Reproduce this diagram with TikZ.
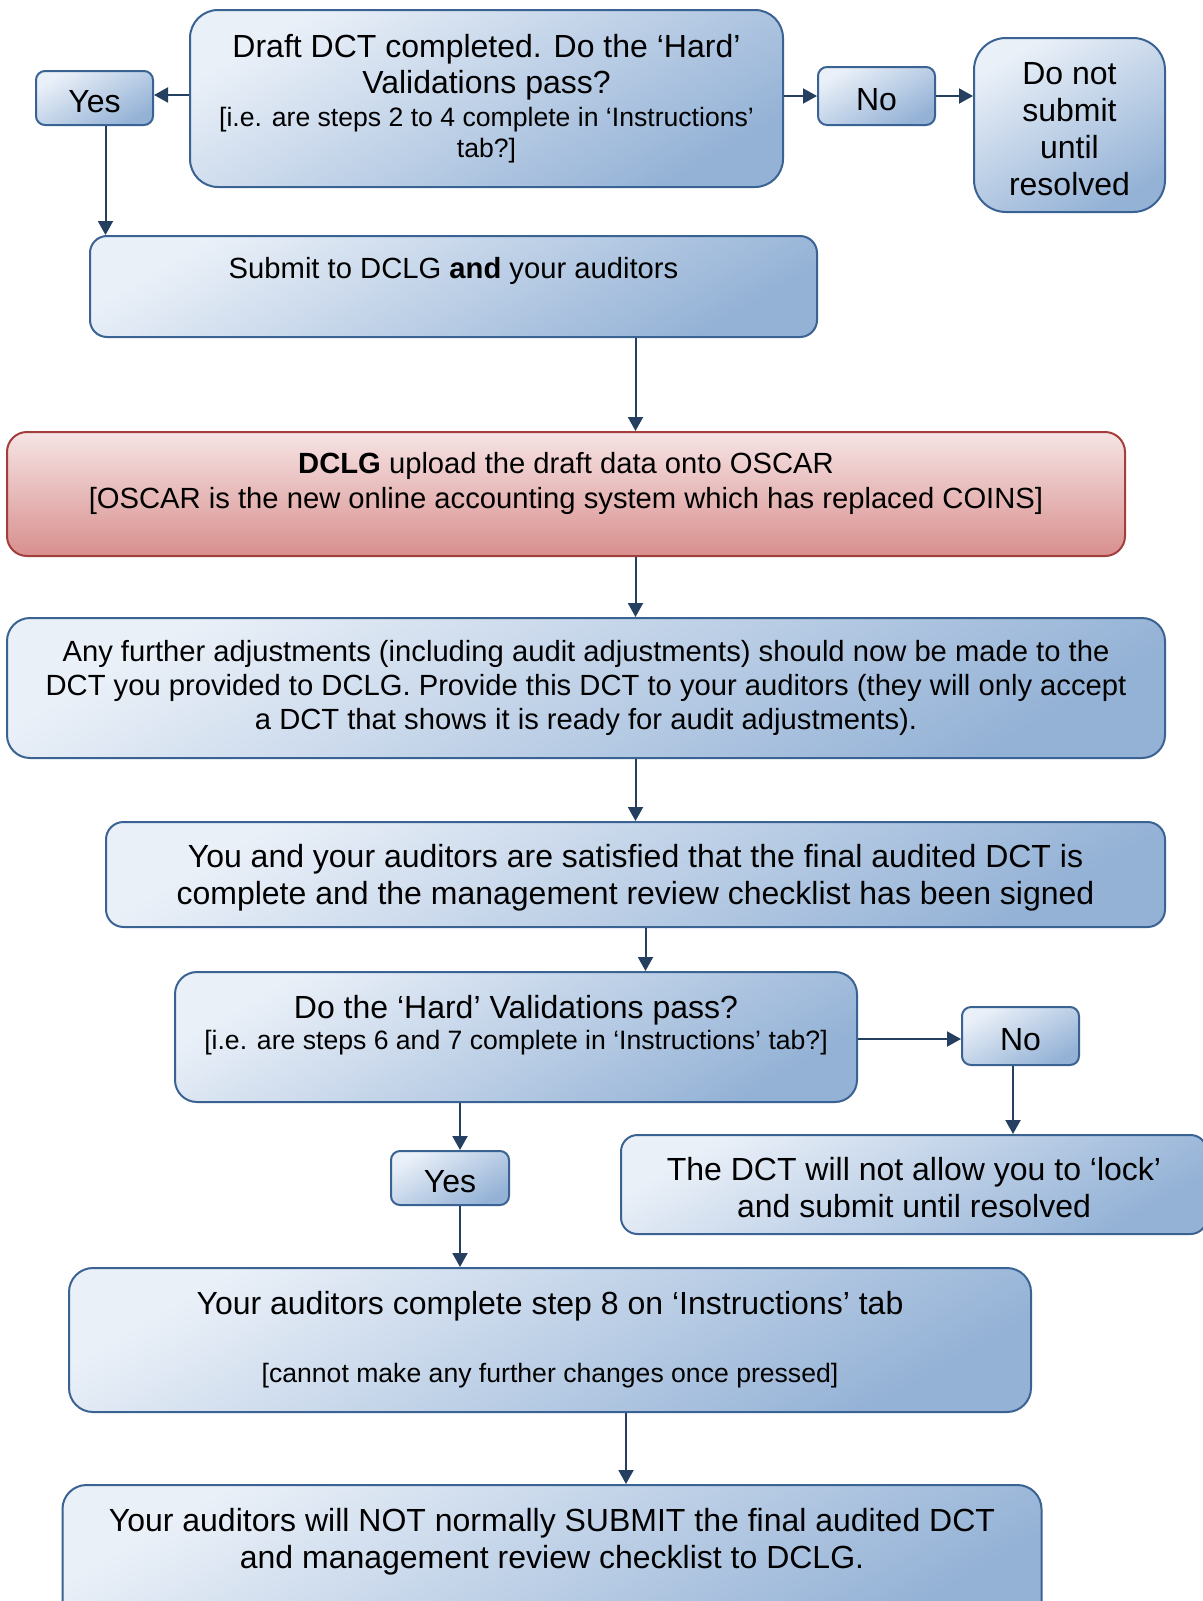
\documentclass[tikz,border=0pt]{standalone}
\usepackage{xcolor}
\usepackage{fontspec}
\setmainfont{Liberation Sans}
\usepackage{tikz}
\usetikzlibrary{arrows.meta}
\definecolor{boxlight}{HTML}{EAF0F8}
\definecolor{boxdark}{HTML}{94B2D6}
\definecolor{boxline}{HTML}{3A6394}
\definecolor{redlight}{HTML}{F6E4E4}
\definecolor{reddark}{HTML}{D88F8E}
\definecolor{redline}{HTML}{A23F3C}
\definecolor{arrline}{HTML}{243F60}
\newcommand{\bigtext}{\fontsize{16}{18.4}\selectfont}
\newcommand{\midtext}{\fontsize{14.6}{16.8}\selectfont}
\newcommand{\smalltext}{\fontsize{13.3}{15.3}\selectfont}
\newcommand{\liftstrut}{\rule{0pt}{15pt}}
\tikzset{flowbox/.style={draw=boxline, line width=1pt, top color=boxlight, bottom color=boxdark, shading angle=30, align=center, inner sep=0pt, font=\bigtext},
  redbox/.style={flowbox, draw=redline, top color=redlight, bottom color=reddark, shading angle=0},
  arr/.style={draw=arrline, line width=1pt, -{Triangle[length=7pt,width=7.5pt]}}}

\begin{document}
\begin{tikzpicture}[x=0.5pt, y=-0.5pt]
\useasboundingbox (0,0) rectangle (1203,1601);
\node[flowbox, minimum width=296.5pt, minimum height=88.5pt, rounded corners=14pt, text depth=6.3pt] (draft) at (486.5,98.5) {\liftstrut Draft DCT completed. Do the ‘Hard’\\ Validations pass?\\[-1.95pt] \smalltext [i.e. are steps 2 to 4 complete in ‘Instructions’\\[-3.1pt] \smalltext tab?]};
\node[flowbox, minimum width=58.5pt, minimum height=27pt, rounded corners=4.5pt] (yesA) at (94.5,98) {\liftstrut Yes};
\node[flowbox, minimum width=58.5pt, minimum height=29pt, rounded corners=4.5pt] (noA) at (876.5,96) {\liftstrut No};
\node[flowbox, minimum width=95.5pt, minimum height=87pt, rounded corners=16pt] (hold) at (1069.5,125) {\liftstrut Do not\\ submit\\ until\\ resolved};
\node[flowbox, font=\midtext, minimum width=363.5pt, minimum height=50.5pt, rounded corners=8.5pt, text depth=22.8pt] (submit) at (453.5,286.5) {\liftstrut Submit to DCLG \textbf{and} your auditors};
\node[redbox, font=\midtext, minimum width=559pt, minimum height=62pt, rounded corners=10pt, text depth=17.8pt] (red) at (566,494) {\liftstrut\textbf{DCLG} upload the draft data onto OSCAR\\[0.5pt] {[}OSCAR is the new online accounting system which has replaced COINS]};
\node[flowbox, font=\midtext, minimum width=579pt, minimum height=70pt, rounded corners=11.5pt, text depth=7.5pt] (adjust) at (586,688) {\liftstrut Any further adjustments (including audit adjustments) should now be made to the\\ DCT you provided to DCLG. Provide this DCT to your auditors (they will only accept\\ a DCT that shows it is ready for audit adjustments).};
\node[flowbox, minimum width=529.5pt, minimum height=52.5pt, rounded corners=8.75pt] (you) at (635.5,874.5) {\liftstrut You and your auditors are satisfied that the final audited DCT is\\ complete and the management review checklist has been signed};
\node[flowbox, minimum width=341pt, minimum height=65pt, rounded corners=11pt, text depth=18pt] (hard) at (516,1037) {\liftstrut Do the ‘Hard’ Validations pass?\\[-2.45pt] \smalltext [i.e. are steps 6 and 7 complete in ‘Instructions’ tab?]};
\node[flowbox, minimum width=58.5pt, minimum height=29pt, rounded corners=4.5pt] (noB) at (1020.5,1036) {\liftstrut No};
\node[flowbox, minimum width=59pt, minimum height=27pt, rounded corners=4.5pt] (yesB) at (450,1178) {\liftstrut Yes};
\node[flowbox, minimum width=293pt, minimum height=49.5pt, rounded corners=8.25pt] (lock) at (914,1184.5) {\liftstrut The DCT will not allow you to ‘lock’\\ and submit until resolved};
\node[flowbox, minimum width=481pt, minimum height=72pt, rounded corners=12pt, text depth=6.4pt] (done) at (550,1340) {\liftstrut Your auditors complete step 8 on ‘Instructions’ tab\\[15.4pt] \smalltext [cannot make any further changes once pressed]};
\node[flowbox, minimum width=489.5pt, minimum height=72.5pt, rounded corners=12pt, text depth=22.8pt] (final) at (552,1557.5) {\liftstrut Your auditors will NOT normally SUBMIT the final audited DCT\\ and management review checklist to DCLG.};
\draw[arr] ([yshift=1.5pt]draft.west |- yesA.east) -- ([yshift=1.5pt]yesA.east);
\draw[arr] ([xshift=5.5pt]yesA.south) -- ([xshift=5.5pt]yesA.south |- submit.north);
\draw[arr] (draft.east |- noA.west) -- (noA.west);
\draw[arr] (noA.east) -- (noA.east -| hold.west);
\draw[arr] (submit.south -| you.north) -- (red.north -| you.north);
\draw[arr] (red.south -| you.north) -- (adjust.north -| you.north);
\draw[arr] (adjust.south -| you.north) -- (you.north);
\draw[arr] ([xshift=5pt]you.south) -- ([xshift=5pt]you.south |- hard.north);
\draw[arr] ([yshift=-1.5pt]hard.east |- noB.west) -- ([yshift=-1.5pt]noB.west);
\draw[arr] ([xshift=-3.75pt]noB.south) -- ([xshift=-3.75pt]noB.south |- lock.north);
\draw[arr] ([xshift=5pt]yesB.north |- hard.south) -- ([xshift=5pt]yesB.north);
\draw[arr] ([xshift=5pt]yesB.south) -- ([xshift=5pt]yesB.south |- done.north);
\draw[arr] ([xshift=38pt]done.south) -- ([xshift=38pt]done.south |- final.north);
\end{tikzpicture}
\end{document}
